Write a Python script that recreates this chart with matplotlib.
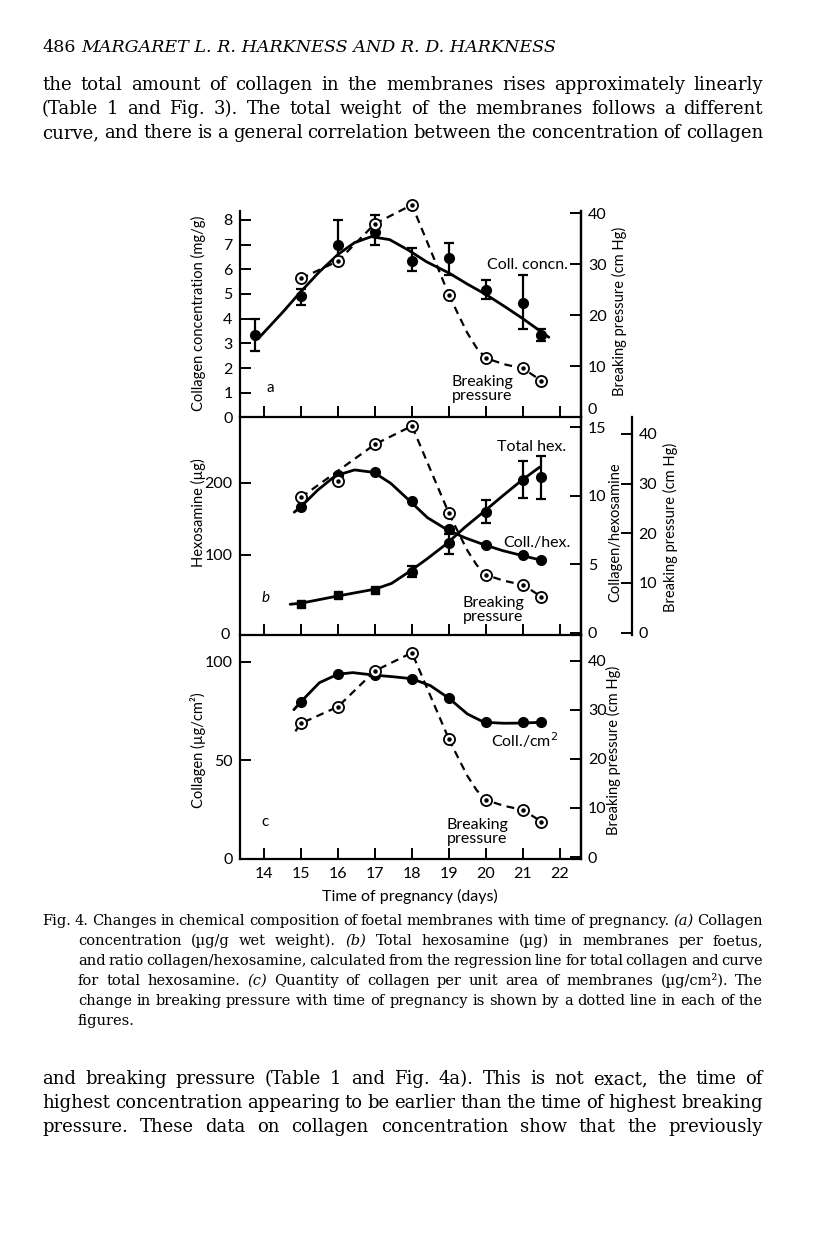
import matplotlib
matplotlib.use("Agg")
import matplotlib.pyplot as plt

# ---- data ----
days = [15, 16, 17, 18, 19, 20, 21, 21.5]

# (a) collagen concentration (mg/g)
conc_x = [13.75, 15, 16, 17, 18, 19, 20, 21, 21.5]
conc_y = [3.35, 4.9, 7.0, 7.5, 6.35, 6.45, 5.15, 4.65, 3.35]
conc_top = [4.0, 5.2, 8.0, 8.2, 6.85, 7.05, 5.55, 5.75, 3.6]
conc_bot = [2.7, 4.55, 6.3, 7.0, 5.95, 5.75, 4.8, 3.6, 3.1]
conc_curve_x = [13.85, 14.5, 15.0, 15.5, 16.0, 16.45, 16.9, 17.4, 17.9, 18.4, 19.0, 19.5, 20.0, 20.5, 21.0, 21.7]
conc_curve_y = [3.2, 4.25, 5.1, 5.9, 6.6, 7.08, 7.32, 7.2, 6.78, 6.3, 5.85, 5.4, 4.98, 4.5, 4.0, 3.25]

# breaking pressure (cm Hg), same in all panels
bp = [27.2, 30.6, 37.9, 41.6, 24.0, 11.6, 9.6, 7.2]
bp_tail_x = [19, 19.25, 19.5, 19.75, 20, 20.5, 21, 21.5]
bp_tail_y = [24.0, 20.2, 16.5, 13.6, 11.6, 10.4, 9.6, 7.2]
bp_head_a_x = [15, 16, 17, 18, 19]
bp_head_a_y = [27.2, 30.6, 37.9, 41.6, 24.0]
bp_head_b_x = [15, 17, 18, 19]
bp_head_b_y = [27.2, 37.9, 41.6, 24.0]
bp_head_c_x = [14.85, 15, 16, 17, 18, 19]
bp_head_c_y = [25.6, 27.2, 30.6, 37.9, 41.6, 24.0]

# (b) total hexosamine (ug) and collagen/hexosamine ratio
hex_y = [32, 44, 52, 77, 116, 160, 204, 208]
hex_top = [32, 44, 52, 85, 129, 176, 230, 238]
hex_bot = [32, 44, 52, 69, 101, 144, 179, 178]
hex_curve_x = [14.71, 15.0, 16.0, 17.0, 17.45, 17.95, 18.42, 18.95, 19.42, 19.94, 20.45, 20.95, 21.45]
hex_curve_y = [31.5, 33, 43, 52.5, 60.5, 77.5, 95, 116, 138, 160, 182, 203, 222]
ratio_y = [9.2, 11.54, 11.7, 9.59, 7.56, 6.44, 5.66, 5.34]
ratio_curve_x = [14.82, 15.0, 15.45, 15.93, 16.45, 16.97, 17.43, 17.95, 18.42, 18.93, 19.42, 19.94, 20.45, 20.95, 21.5]
ratio_curve_y = [8.8, 9.2, 10.4, 11.45, 11.88, 11.7, 10.9, 9.6, 8.4, 7.56, 6.95, 6.44, 6.0, 5.66, 5.3]

# (c) collagen per unit area (ug/cm2)
cm_y = [79.8, 93.8, 93.3, 91.6, 81.6, 69.4, 69.4, 69.4]
cm_curve_x = [14.81, 15.0, 15.5, 16.0, 16.4, 17.0, 17.5, 18.0, 18.5, 19.0, 19.5, 19.95, 20.5, 21.0, 21.5]
cm_curve_y = [75.8, 79.8, 89.5, 93.8, 94.6, 93.3, 92.5, 91.5, 88.0, 81.6, 73.6, 69.4, 68.9, 69.0, 69.4]

xticks = [14, 15, 16, 17, 18, 19, 20, 21, 22]

# ---- page ----
W, H = 816, 1233
plt.rcParams["font.family"] = "Lato"
fig = plt.figure(figsize=(W / 100, H / 100), dpi=100)
L, R = 239.5, 581
TICK_FS = 11.5


def box(top, bottom):
    return [L / W, 1 - bottom / H, (R - L) / W, (bottom - top) / H]


def ft(x, y, s, **kw):
    return fig.text(x / W, 1 - y / H, s, **kw)


def style(ax, side="left"):
    ax.set_facecolor("none")
    ax.spines["top"].set_visible(False)
    for s in ax.spines.values():
        s.set_linewidth(1.6)
    if side == "right":
        ax.spines["left"].set_visible(False)
        ax.spines["bottom"].set_visible(False)
    ax.tick_params(direction="in", length=8, width=1.4, labelsize=TICK_FS, pad=5)
    ax.set_xlim(13.34, 22.57)
    ax.set_xticks(xticks)


def curve(ax, x, y):
    ax.plot(x, y, color="k", lw=2.0, solid_capstyle="round", clip_on=False)


def dots(ax, x, y, marker="o", ms=7):
    ax.plot(x, y, ls="none", marker=marker, ms=ms, color="k", clip_on=False)


def bars(ax, x, y, top, bot):
    lo = [v - b for v, b in zip(y, bot)]
    hi = [t - v for v, t in zip(y, top)]
    ax.errorbar(x, y, yerr=[lo, hi], fmt="none", ecolor="k", elinewidth=1.6,
                capsize=3.5, capthick=1.6)


def breaking(ax, hx, hy):
    ax.plot(hx, hy, color="k", lw=1.6, ls=(0, (3.5, 2.5)), clip_on=False)
    ax.plot(bp_tail_x, bp_tail_y, color="k", lw=1.6, ls=(0, (3.5, 2.5)), clip_on=False)
    ax.plot(days, bp, ls="none", marker="o", ms=8, mfc="white", mec="k", mew=1.3,
            clip_on=False)
    ax.plot(days, bp, ls="none", marker="o", ms=2.2, color="k", clip_on=False)


# panel a
a = fig.add_axes(box(211, 417.5))
style(a)
a.set_ylim(0, 8.36)
a.set_yticks(range(9))
a.set_xticklabels([])
curve(a, conc_curve_x, conc_curve_y)
bars(a, conc_x, conc_y, conc_top, conc_bot)
dots(a, conc_x, conc_y)
a2 = a.twinx()
style(a2, "right")
a2.set_ylim(0, 40.4)
a2.set_yticks([0, 10, 20, 30, 40])
a2.get_yticklabels()[0].set_va("bottom")
breaking(a2, bp_head_a_x, bp_head_a_y)

# panel b
b = fig.add_axes(box(417.5, 635))
style(b)
b.set_ylim(-11.2, 291)
b.set_yticks([100, 200])
b.set_xticklabels([])
b.text(-0.027, 0, "0", transform=b.transAxes, ha="right", va="center", fontsize=TICK_FS)
curve(b, hex_curve_x, hex_curve_y)
bars(b, days[3:], hex_y[3:], hex_top[3:], hex_bot[3:])
b.plot(days[:3], hex_y[:3], ls="none", marker="s", ms=6, color="k")
dots(b, days[3:], hex_y[3:])
b2 = b.twinx()
style(b2, "right")
b2.set_ylim(-0.15, 15.7)
b2.set_yticks([0, 5, 10, 15])
curve(b2, ratio_curve_x, ratio_curve_y)
dots(b2, days, ratio_y)
b3 = b.twinx()
style(b3, "right")
b3.spines["right"].set_position(("axes", 1 + (631.5 - R) / (R - L)))
b3.set_ylim(-0.5, 43.3)
b3.set_yticks([0, 10, 20, 30, 40])
breaking(b3, bp_head_b_x, bp_head_b_y)

# panel c
c = fig.add_axes(box(635, 859))
style(c)
c.set_ylim(0, 113.7)
c.set_yticks([0, 50, 100])
c.tick_params(axis="x", pad=6)
curve(c, cm_curve_x, cm_curve_y)
dots(c, days, cm_y)
c2 = c.twinx()
style(c2, "right")
c2.set_ylim(-0.4, 45.2)
c2.set_yticks([0, 10, 20, 30, 40])
breaking(c2, bp_head_c_x, bp_head_c_y)

# axis titles and annotations
lab = dict(rotation=90, ha="center", va="center", fontsize=10.5)
ft(198, 313, "Collagen concentration (mg/g)", **lab)
ft(619, 311, "Breaking pressure (cm Hg)", **lab)
ft(198, 513, "Hexosamine (µg)", **lab)
ft(615, 532, "Collagen/hexosamine", **lab)
ft(670, 527, "Breaking pressure (cm Hg)", **lab)
ft(198, 750, "Collagen (µg/cm²)", **lab)
ft(613, 750, "Breaking pressure (cm Hg)", **lab)
ft(410, 896, "Time of pregnancy (days)", ha="center", va="center", fontsize=11.5)

ann = dict(ha="center", va="center", fontsize=11.5)
ft(527, 265, "Coll. concn.", **ann)
ft(482, 389, "Breaking\npressure", linespacing=1.0, **ann)
ft(270, 388, "a", fontsize=11, ha="center", va="center")
ft(532, 447, "Total hex.", **ann)
ft(537, 543, "Coll./hex.", **ann)
ft(493, 610, "Breaking\npressure", linespacing=1.0, **ann)
ft(266, 598, "b", fontsize=11, style="italic", ha="center", va="center")
ft(525, 740, "Coll./cm$^2$", **ann)
ft(477, 832, "Breaking\npressure", linespacing=1.0, **ann)
ft(265, 822, "c", fontsize=11, ha="center", va="center")

# ---- printed text around the figure ----
rend = fig.canvas.get_renderer()
SERIF = "DejaVu Serif"


def line(words, x0, x1, y, size, justify=True, italic=()):
    ts = []
    for i, w in enumerate(words):
        ts.append(ft(0, y, w, fontsize=size, family=SERIF, va="baseline",
                     style="italic" if i in italic else "normal"))
    widths = [t.get_window_extent(rend).width for t in ts]
    min_gap = size * 0.25
    need = sum(widths) + min_gap * (len(words) - 1)
    if justify and need > x1 - x0:
        k = (x1 - x0) / need
        for t in ts:
            t.set_fontsize(size * k)
        widths = [t.get_window_extent(rend).width for t in ts]
    if justify and len(words) > 1:
        gap = (x1 - x0 - sum(widths)) / (len(words) - 1)
    else:
        gap = size * 0.35
    x = x0
    for t, w in zip(ts, widths):
        t.set_x(x / W)
        x += w + gap


ft(42, 52, "486", fontsize=12.6, family=SERIF, va="baseline")
ft(81, 52, "MARGARET L. R. HARKNESS AND R. D. HARKNESS", fontsize=12.6,
   family=SERIF, style="italic", va="baseline")

top_lines = [
    "the total amount of collagen in the membranes rises approximately linearly",
    "(Table 1 and Fig. 3). The total weight of the membranes follows a different",
    "curve, and there is a general correlation between the concentration of collagen",
]
for i, s in enumerate(top_lines):
    line(s.split(), 42, 763, 90 + 24 * i, 13)

cap_lines = [
    "Fig. 4.  Changes in chemical composition of foetal membranes with time of pregnancy. (a) Collagen",
    "concentration (µg/g wet weight). (b) Total hexosamine (µg) in membranes per foetus,",
    "and ratio collagen/hexosamine, calculated from the regression line for total collagen and curve",
    "for total hexosamine. (c) Quantity of collagen per unit area of membranes (µg/cm²). The",
    "change in breaking pressure with time of pregnancy is shown by a dotted line in each of the",
    "figures.",
]
for i, s in enumerate(cap_lines):
    words = s.split()
    ital = [k for k, w in enumerate(words) if w in ("(a)", "(b)", "(c)")]
    x0 = 42 if i == 0 else 78
    line(words, x0, 763, 925 + 20 * i, 10.5, justify=i < 5, italic=ital)

bottom_lines = [
    "and breaking pressure (Table 1 and Fig. 4a). This is not exact, the time of",
    "highest concentration appearing to be earlier than the time of highest breaking",
    "pressure. These data on collagen concentration show that the previously",
]
for i, s in enumerate(bottom_lines):
    line(s.split(), 42, 763, 1084 + 24 * i, 13)

fig.savefig("out.png", dpi=100)
